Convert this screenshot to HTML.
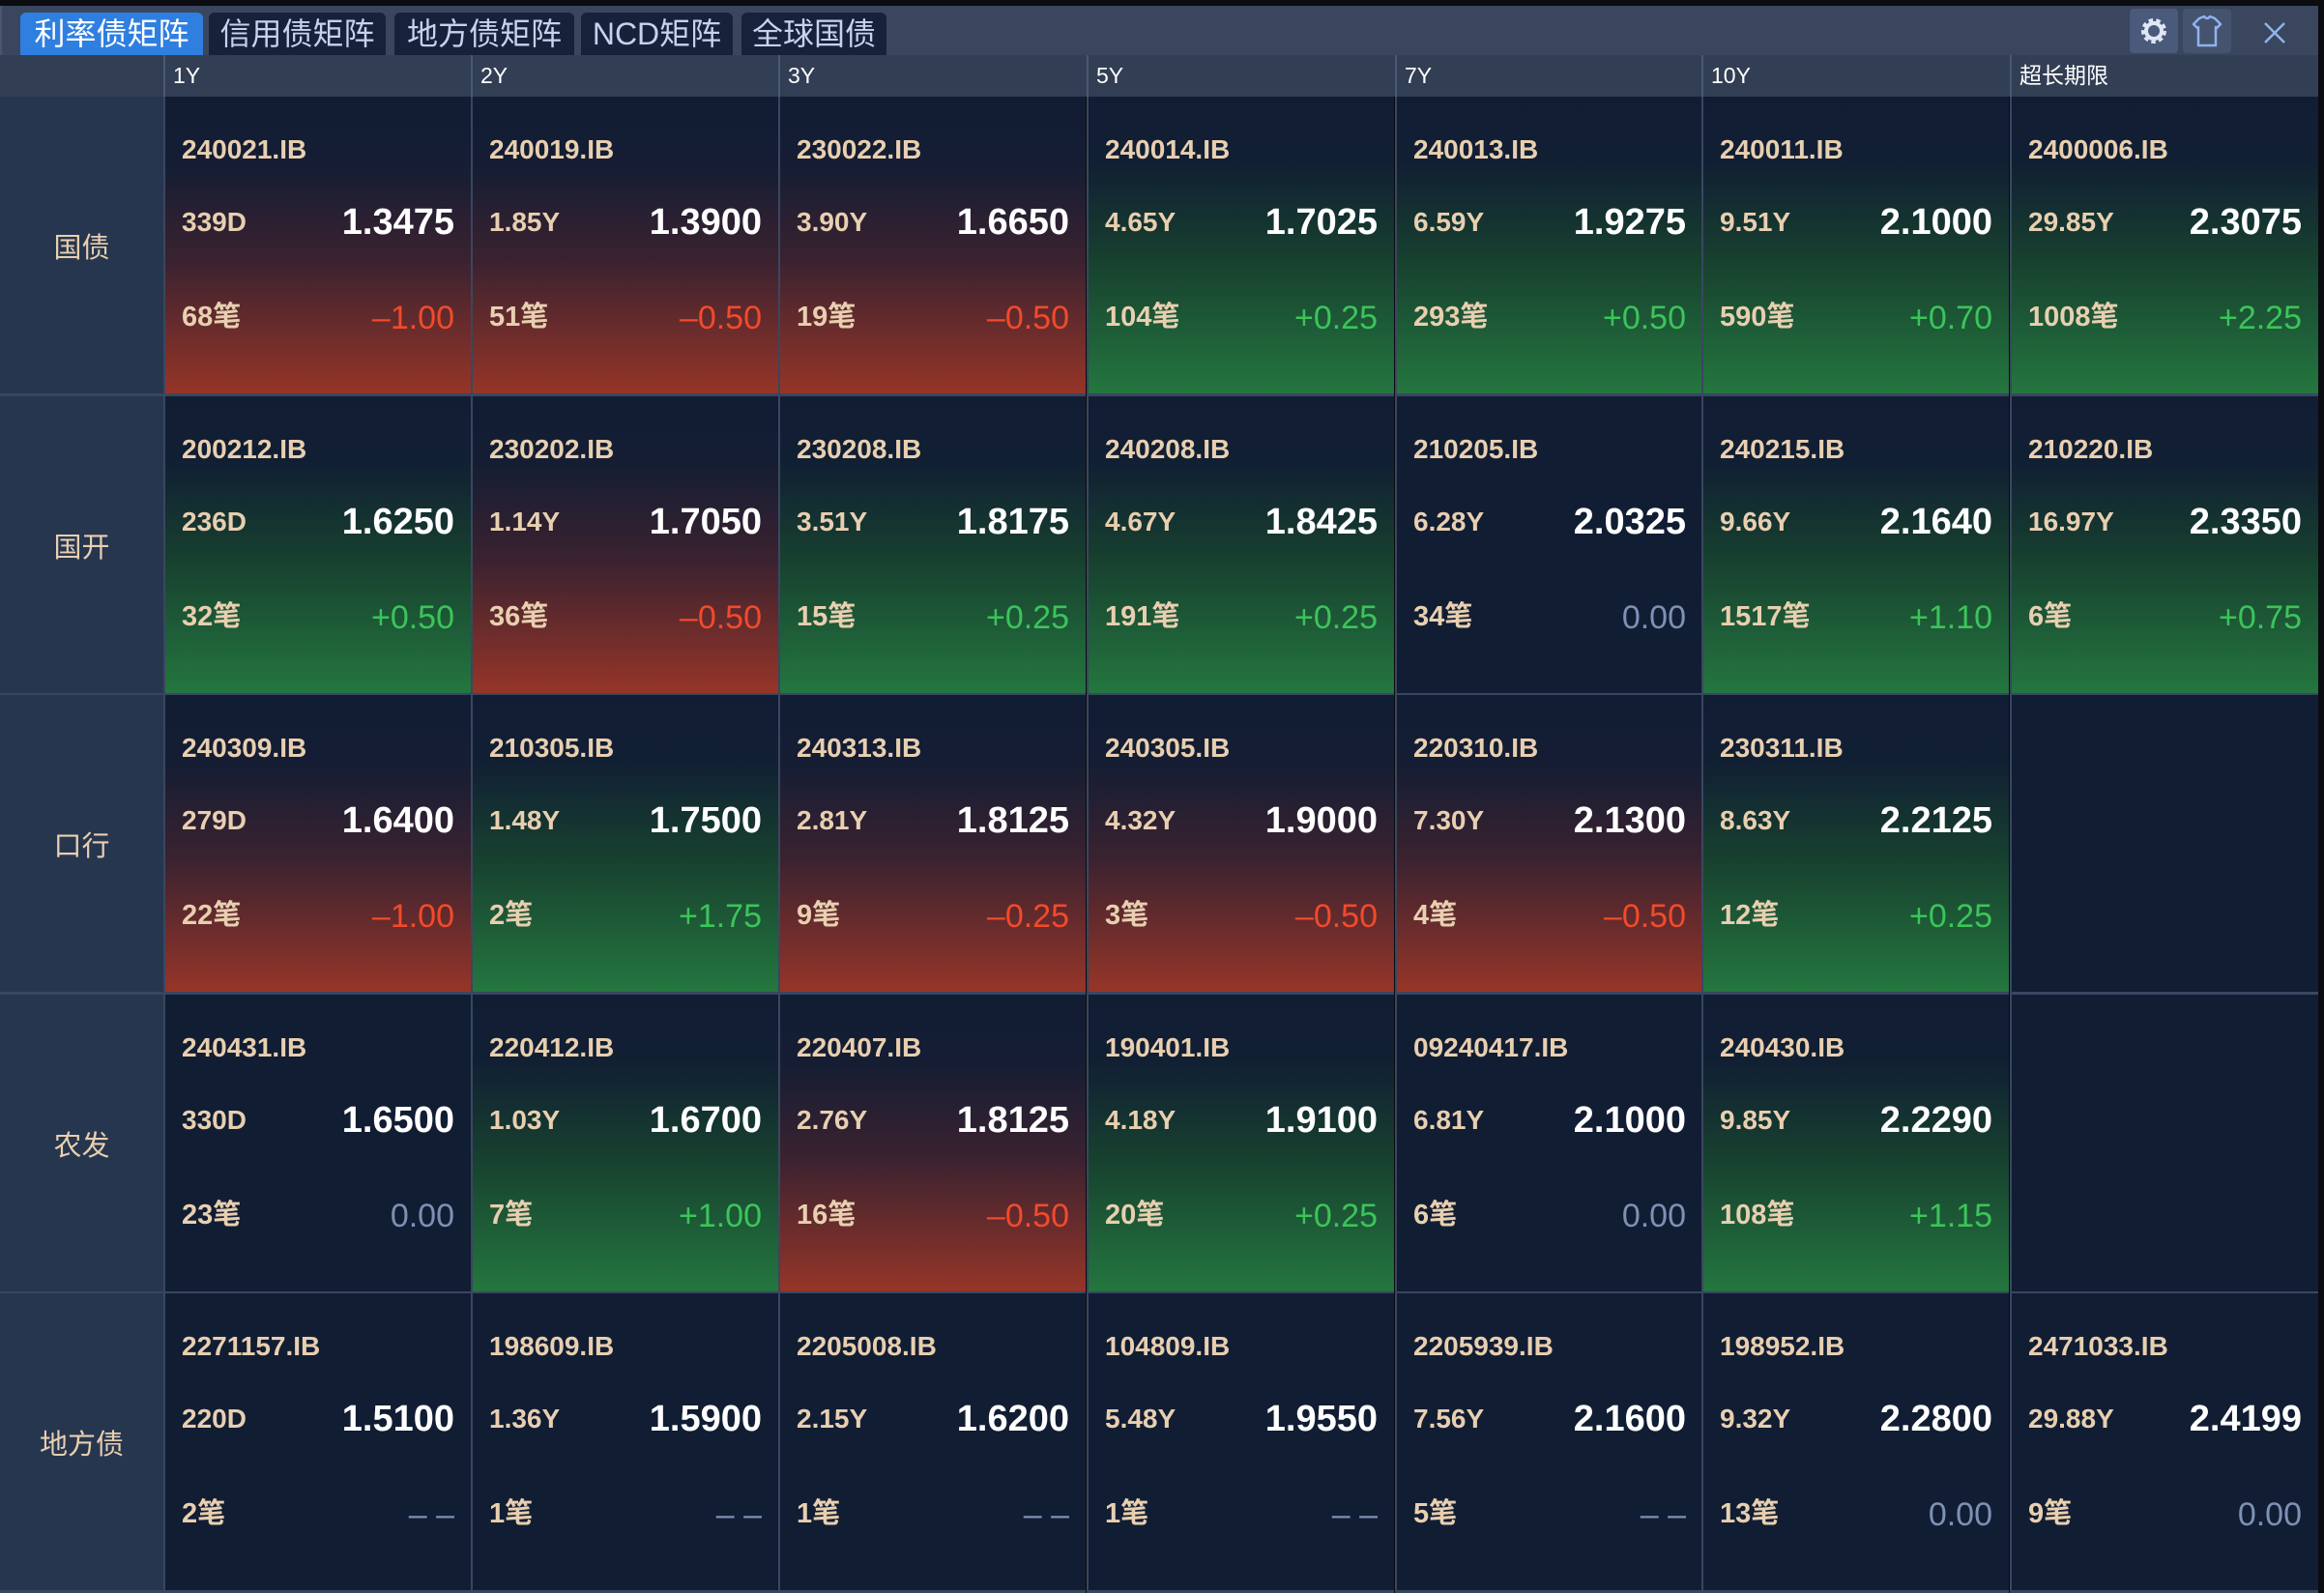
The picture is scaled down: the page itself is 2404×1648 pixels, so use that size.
<!DOCTYPE html>
<html><head><meta charset="utf-8"><style>
*{margin:0;padding:0;box-sizing:border-box}
body{width:2404px;height:1648px;background:#0b0c10;overflow:hidden;font-family:"Liberation Sans","Noto Sans CJK SC",sans-serif;position:relative}
#bar{position:absolute;left:0;top:6px;width:2398px;height:51px;background:#3a465d;border-left:2px solid #4a5570}
.tab{position:absolute;top:7px;height:44px;background:#16223a;color:#c6d2ee;font-size:32px;line-height:44px;text-align:center;border-radius:6px 6px 0 0}
.tab.on{background:#2f7fe0;color:#fff}
.ib{position:absolute;top:3px;width:50px;height:46px;background:#4a5a7a;border-radius:4px}
#hdr{position:absolute;left:0;top:57px;width:2398px;height:43px;background:#323e54}
.h{position:absolute;top:0;height:43px;color:#fff;font-size:23px;line-height:43px;padding-left:8px;border-left:2px solid #4b5873}
#grid{position:absolute;left:0;top:100px;width:2398px;height:1548px}
.lab{position:absolute;left:0;width:169px;height:310px;background:#27364f;color:#e8cfb0;font-size:29px;display:flex;align-items:center;justify-content:center;border-bottom:3px solid #3a4660}
.cell{position:absolute;width:318px;height:310px;background:#111d33;border-left:2px solid #3a4660;border-bottom:3px solid #3a4660}
.r{background:linear-gradient(to bottom,#111d33 0%,#141d33 22%,#3a2230 55%,#963528 100%)}
.g{background:linear-gradient(to bottom,#111d33 0%,#111f33 22%,#17402f 55%,#24763f 100%)}
.cell span{position:absolute;white-space:nowrap;line-height:1;font-weight:bold}
.a{left:17px;top:41px;font-size:28px;color:#e8cfb0}
.b{left:17px;top:116px;font-size:28px;color:#e8cfb0}
.v{right:17px;top:111px;font-size:38px;color:#fff}
.d{left:17px;top:214px;font-size:29px;color:#e8cfb0}
.c{right:17px;top:212px;font-size:34px}
.cell span.c{font-weight:normal}
.cr{color:#f24a2b}.cg{color:#3cc45a}.cn{color:#7e90b4}
</style></head><body>
<div id="bar">
<div class="tab on" style="left:19px;width:189px">利率债矩阵</div>
<div class="tab" style="left:214px;width:183px">信用债矩阵</div>
<div class="tab" style="left:406px;width:186px">地方债矩阵</div>
<div class="tab" style="left:599px;width:157px">NCD矩阵</div>
<div class="tab" style="left:765px;width:150px">全球国债</div>
<div class="ib" style="left:2201px"><svg width="50" height="46" viewBox="0 0 50 46"><circle cx="25" cy="23" r="10" fill="none" stroke="#dfe6f5" stroke-width="6" stroke-dasharray="4 3"/><circle cx="25" cy="23" r="8" fill="none" stroke="#dfe6f5" stroke-width="4"/></svg></div>
<div class="ib" style="left:2256px;background:#45536f"><svg width="50" height="46" viewBox="0 0 50 46"><path d="M17 10 L22 8 Q25 12 28 8 L33 10 L39 16 L35 20 L34 19 L34 38 L16 38 L16 19 L15 20 L11 16 Z" fill="none" stroke="#8fb3ee" stroke-width="2.5" stroke-linejoin="round"/></svg></div>
<svg style="position:absolute;left:2333px;top:10px" width="36" height="36" viewBox="0 0 36 36"><path d="M8 8 L28 28 M28 8 L8 28" stroke="#8fb3ee" stroke-width="2.5"/></svg>
</div>
<div id="hdr">
<div class="h" style="left:169px">1Y</div><div class="h" style="left:487px">2Y</div><div class="h" style="left:805px">3Y</div><div class="h" style="left:1124px">5Y</div><div class="h" style="left:1443px">7Y</div><div class="h" style="left:1760px">10Y</div><div class="h" style="left:2079px;width:319px">超长期限</div>
</div>
<div id="grid">
<div class="lab" style="top:0">国债</div>
<div class="lab" style="top:310px">国开</div>
<div class="lab" style="top:619px">口行</div>
<div class="lab" style="top:929px">农发</div>
<div class="lab" style="top:1238px;height:310px">地方债</div>

<div class="cell r" style="left:169px;top:0"><span class="a">240021.IB</span><span class="b">339D</span><span class="v">1.3475</span><span class="d">68笔</span><span class="c cr">–1.00</span></div>
<div class="cell r" style="left:487px;top:0"><span class="a">240019.IB</span><span class="b">1.85Y</span><span class="v">1.3900</span><span class="d">51笔</span><span class="c cr">–0.50</span></div>
<div class="cell r" style="left:805px;top:0"><span class="a">230022.IB</span><span class="b">3.90Y</span><span class="v">1.6650</span><span class="d">19笔</span><span class="c cr">–0.50</span></div>
<div class="cell g" style="left:1124px;top:0"><span class="a">240014.IB</span><span class="b">4.65Y</span><span class="v">1.7025</span><span class="d">104笔</span><span class="c cg">+0.25</span></div>
<div class="cell g" style="left:1443px;top:0"><span class="a">240013.IB</span><span class="b">6.59Y</span><span class="v">1.9275</span><span class="d">293笔</span><span class="c cg">+0.50</span></div>
<div class="cell g" style="left:1760px;top:0"><span class="a">240011.IB</span><span class="b">9.51Y</span><span class="v">2.1000</span><span class="d">590笔</span><span class="c cg">+0.70</span></div>
<div class="cell g" style="left:2079px;top:0;width:319px"><span class="a">2400006.IB</span><span class="b">29.85Y</span><span class="v">2.3075</span><span class="d">1008笔</span><span class="c cg">+2.25</span></div>

<div class="cell g" style="left:169px;top:310px"><span class="a">200212.IB</span><span class="b">236D</span><span class="v">1.6250</span><span class="d">32笔</span><span class="c cg">+0.50</span></div>
<div class="cell r" style="left:487px;top:310px"><span class="a">230202.IB</span><span class="b">1.14Y</span><span class="v">1.7050</span><span class="d">36笔</span><span class="c cr">–0.50</span></div>
<div class="cell g" style="left:805px;top:310px"><span class="a">230208.IB</span><span class="b">3.51Y</span><span class="v">1.8175</span><span class="d">15笔</span><span class="c cg">+0.25</span></div>
<div class="cell g" style="left:1124px;top:310px"><span class="a">240208.IB</span><span class="b">4.67Y</span><span class="v">1.8425</span><span class="d">191笔</span><span class="c cg">+0.25</span></div>
<div class="cell" style="left:1443px;top:310px"><span class="a">210205.IB</span><span class="b">6.28Y</span><span class="v">2.0325</span><span class="d">34笔</span><span class="c cn">0.00</span></div>
<div class="cell g" style="left:1760px;top:310px"><span class="a">240215.IB</span><span class="b">9.66Y</span><span class="v">2.1640</span><span class="d">1517笔</span><span class="c cg">+1.10</span></div>
<div class="cell g" style="left:2079px;top:310px;width:319px"><span class="a">210220.IB</span><span class="b">16.97Y</span><span class="v">2.3350</span><span class="d">6笔</span><span class="c cg">+0.75</span></div>

<div class="cell r" style="left:169px;top:619px"><span class="a">240309.IB</span><span class="b">279D</span><span class="v">1.6400</span><span class="d">22笔</span><span class="c cr">–1.00</span></div>
<div class="cell g" style="left:487px;top:619px"><span class="a">210305.IB</span><span class="b">1.48Y</span><span class="v">1.7500</span><span class="d">2笔</span><span class="c cg">+1.75</span></div>
<div class="cell r" style="left:805px;top:619px"><span class="a">240313.IB</span><span class="b">2.81Y</span><span class="v">1.8125</span><span class="d">9笔</span><span class="c cr">–0.25</span></div>
<div class="cell r" style="left:1124px;top:619px"><span class="a">240305.IB</span><span class="b">4.32Y</span><span class="v">1.9000</span><span class="d">3笔</span><span class="c cr">–0.50</span></div>
<div class="cell r" style="left:1443px;top:619px"><span class="a">220310.IB</span><span class="b">7.30Y</span><span class="v">2.1300</span><span class="d">4笔</span><span class="c cr">–0.50</span></div>
<div class="cell g" style="left:1760px;top:619px"><span class="a">230311.IB</span><span class="b">8.63Y</span><span class="v">2.2125</span><span class="d">12笔</span><span class="c cg">+0.25</span></div>
<div class="cell" style="left:2079px;top:619px;width:319px"></div>

<div class="cell" style="left:169px;top:929px"><span class="a">240431.IB</span><span class="b">330D</span><span class="v">1.6500</span><span class="d">23笔</span><span class="c cn">0.00</span></div>
<div class="cell g" style="left:487px;top:929px"><span class="a">220412.IB</span><span class="b">1.03Y</span><span class="v">1.6700</span><span class="d">7笔</span><span class="c cg">+1.00</span></div>
<div class="cell r" style="left:805px;top:929px"><span class="a">220407.IB</span><span class="b">2.76Y</span><span class="v">1.8125</span><span class="d">16笔</span><span class="c cr">–0.50</span></div>
<div class="cell g" style="left:1124px;top:929px"><span class="a">190401.IB</span><span class="b">4.18Y</span><span class="v">1.9100</span><span class="d">20笔</span><span class="c cg">+0.25</span></div>
<div class="cell" style="left:1443px;top:929px"><span class="a">09240417.IB</span><span class="b">6.81Y</span><span class="v">2.1000</span><span class="d">6笔</span><span class="c cn">0.00</span></div>
<div class="cell g" style="left:1760px;top:929px"><span class="a">240430.IB</span><span class="b">9.85Y</span><span class="v">2.2290</span><span class="d">108笔</span><span class="c cg">+1.15</span></div>
<div class="cell" style="left:2079px;top:929px;width:319px"></div>

<div class="cell" style="left:169px;top:1238px"><span class="a">2271157.IB</span><span class="b">220D</span><span class="v">1.5100</span><span class="d">2笔</span><span class="c cn">– –</span></div>
<div class="cell" style="left:487px;top:1238px"><span class="a">198609.IB</span><span class="b">1.36Y</span><span class="v">1.5900</span><span class="d">1笔</span><span class="c cn">– –</span></div>
<div class="cell" style="left:805px;top:1238px"><span class="a">2205008.IB</span><span class="b">2.15Y</span><span class="v">1.6200</span><span class="d">1笔</span><span class="c cn">– –</span></div>
<div class="cell" style="left:1124px;top:1238px"><span class="a">104809.IB</span><span class="b">5.48Y</span><span class="v">1.9550</span><span class="d">1笔</span><span class="c cn">– –</span></div>
<div class="cell" style="left:1443px;top:1238px"><span class="a">2205939.IB</span><span class="b">7.56Y</span><span class="v">2.1600</span><span class="d">5笔</span><span class="c cn">– –</span></div>
<div class="cell" style="left:1760px;top:1238px"><span class="a">198952.IB</span><span class="b">9.32Y</span><span class="v">2.2800</span><span class="d">13笔</span><span class="c cn">0.00</span></div>
<div class="cell" style="left:2079px;top:1238px;width:319px"><span class="a">2471033.IB</span><span class="b">29.88Y</span><span class="v">2.4199</span><span class="d">9笔</span><span class="c cn">0.00</span></div>
</div>
</body></html>
